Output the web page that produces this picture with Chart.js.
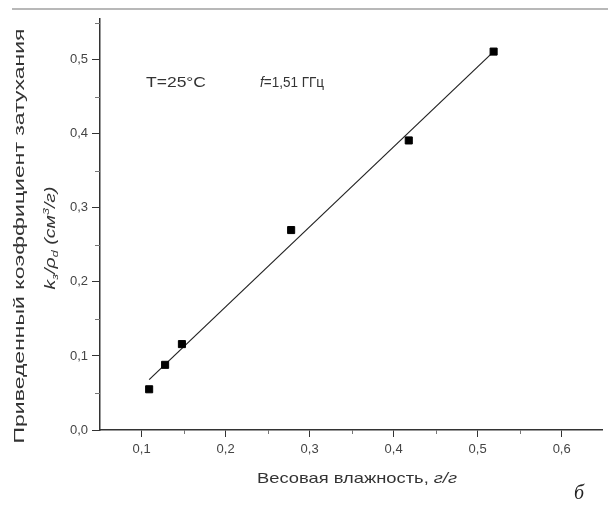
<!DOCTYPE html>
<html>
<head>
<meta charset="utf-8">
<script src="https://cdn.jsdelivr.net/npm/chart.js@4.4.1/dist/chart.umd.min.js"></script>
<style>
  html, body { margin: 0; padding: 0; background: #fff; }
  canvas { display: block; }
</style>
</head>
<body>
<canvas id="chAtt" width="608" height="505"></canvas>
<script>
/* Весовая влажность (г/г) -> приведенный коэффициент затухания */
const moisture = [0.109, 0.128, 0.148, 0.278, 0.418, 0.519];
const attenuation = [0.055, 0.088, 0.116, 0.270, 0.391, 0.511];

// линия аппроксимации (концы)
const fitX = [0.109, 0.519];
const fitY = [0.068, 0.511];

const xTicks = [0.1, 0.2, 0.3, 0.4, 0.5, 0.6];
const yTicks = [0.0, 0.1, 0.2, 0.3, 0.4, 0.5];
const xMinor = [0.15, 0.25, 0.35, 0.45, 0.55];
const yMinor = [0.05, 0.15, 0.25, 0.35, 0.45, 0.55];

const fmtComma = v => Number(v).toFixed(1).replace('.', ',');
const SANS = '"Liberation Sans", Arial, sans-serif';

/* рисует текст из кусков; target != 0 -> растянуть до этой длины */
function fitText(ctx, parts, cx, cy, target, rot, alignLeft) {
  ctx.save();
  ctx.translate(cx, cy);
  if (rot) ctx.rotate(rot);
  let w = 0;
  parts.forEach(p => { ctx.font = p.font; w += ctx.measureText(p.t).width; });
  const k = target ? target / w : 1;
  ctx.scale(k, 1);
  let x = alignLeft ? 0 : -w / 2;
  ctx.textBaseline = 'middle';
  ctx.textAlign = 'left';
  parts.forEach(p => {
    ctx.font = p.font;
    ctx.fillStyle = p.color || '#333';
    ctx.fillText(p.t, x, p.dy || 0);
    x += ctx.measureText(p.t).width;
  });
  ctx.restore();
}

const decorPlugin = {
  id: 'decor',
  afterDraw(chart) {
    const ctx = chart.ctx;
    const xs = chart.scales.x, ys = chart.scales.y;

    // верхняя серая линия (рамка скана)
    ctx.save();
    ctx.strokeStyle = '#b8b8b8';
    ctx.lineWidth = 2;
    ctx.beginPath(); ctx.moveTo(12, 9); ctx.lineTo(608, 9); ctx.stroke();

    // второстепенные штрихи
    ctx.strokeStyle = '#777';
    ctx.lineWidth = 1;
    xMinor.forEach(v => {
      const px = Math.round(xs.getPixelForValue(v)) + 0.5;
      ctx.beginPath(); ctx.moveTo(px, xs.top); ctx.lineTo(px, xs.top + 4); ctx.stroke();
    });
    yMinor.forEach(v => {
      const py = Math.round(ys.getPixelForValue(v)) + 0.5;
      ctx.beginPath(); ctx.moveTo(ys.right, py); ctx.lineTo(ys.right - 5, py); ctx.stroke();
    });
    ctx.restore();

    // подпись внутри графика
    fitText(ctx, [{ t: 'T=25°C', font: '15px ' + SANS }], 176, 83, 60);
    fitText(ctx, [{ t: 'f', font: 'italic 15px ' + SANS }, { t: '=1,51 ГГц', font: '15px ' + SANS }], 260, 83, 64, 0, true);

    // ось X
    fitText(ctx, [
      { t: 'Весовая влажность, ', font: '15px ' + SANS },
      { t: 'г/г', font: 'italic 15px ' + SANS }
    ], 357, 479, 200);

    // ось Y, две строки
    fitText(ctx, [{ t: 'Приведенный коэффициент затухания', font: '15px ' + SANS }],
      20, 236, 415, -Math.PI / 2);
    const fi = 'italic 14px ' + SANS;
    const fs = 'italic 9px ' + SANS;
    fitText(ctx, [
      { t: 'k', font: fi }, { t: 'з', font: fs, dy: 4 },
      { t: '/ρ', font: fi }, { t: 'd', font: fs, dy: 4 },
      { t: ' (см', font: fi }, { t: '3', font: fs, dy: -5 },
      { t: '/г)', font: fi }
    ], 51, 238, 103, -Math.PI / 2);

    // литера панели
    ctx.save();
    ctx.font = 'italic 20px "Liberation Serif", "Times New Roman", serif';
    ctx.fillStyle = '#222';
    ctx.textAlign = 'center';
    ctx.textBaseline = 'middle';
    ctx.fillText('б', 579, 494);
    ctx.restore();
  }
};

new Chart(document.getElementById('chAtt'), {
  type: 'scatter',
  data: {
    datasets: [
      {
        label: 'fit', type: 'line',
        data: fitX.map((x, i) => ({ x, y: fitY[i] })),
        borderColor: '#222', borderWidth: 1.2, pointRadius: 0, fill: false, order: 2
      },
      {
        label: 'data',
        data: moisture.map((x, i) => ({ x, y: attenuation[i] })),
        pointStyle: 'rect', pointRadius: 5, borderWidth: 1,
        backgroundColor: '#000', borderColor: '#000', order: 1
      }
    ]
  },
  options: {
    responsive: false, animation: false, devicePixelRatio: 1,
    layout: { padding: { top: 19, left: 0, right: 0, bottom: 0 } },
    plugins: { legend: { display: false }, tooltip: { enabled: false } },
    scales: {
      x: {
        type: 'linear', min: 0.0505, max: 0.648,
        afterFit: s => { s.height = 75; },
        afterBuildTicks: s => { s.ticks = xTicks.map(v => ({ value: v })); },
        border: { display: true, color: '#333', width: 1.5 },
        grid: { display: true, drawOnChartArea: false, drawTicks: true, tickLength: 7, tickColor: '#333' },
        ticks: { color: '#444', font: { size: 13, family: SANS }, padding: 5, callback: fmtComma }
      },
      y: {
        type: 'linear', min: 0, max: 0.555,
        afterFit: s => { s.width = 100; },
        afterBuildTicks: s => { s.ticks = yTicks.map(v => ({ value: v })); },
        border: { display: true, color: '#333', width: 1.5 },
        grid: { display: true, drawOnChartArea: false, drawTicks: true, tickLength: 8, tickColor: '#333' },
        ticks: { color: '#444', font: { size: 13, family: SANS }, padding: 4, callback: fmtComma }
      }
    }
  },
  plugins: [decorPlugin]
});
</script>
</body>
</html>
